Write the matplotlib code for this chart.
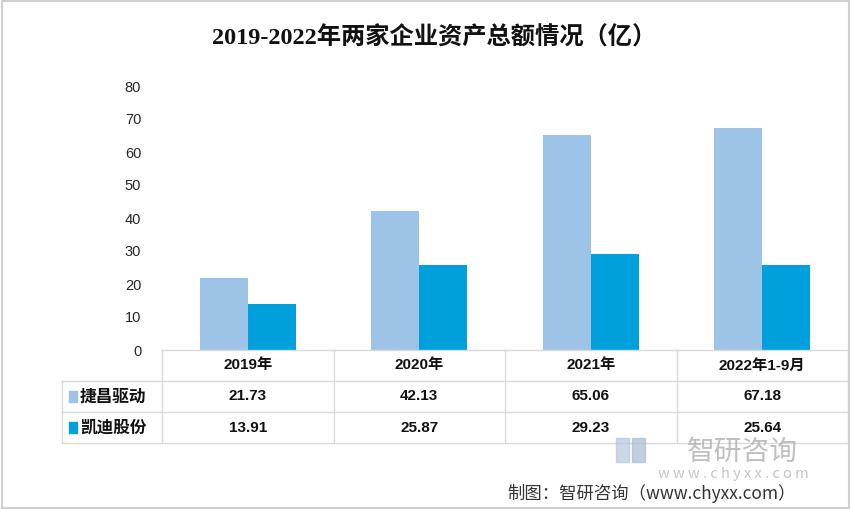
import numpy as np
import matplotlib
matplotlib.use("Agg")
import matplotlib.pyplot as plt
import matplotlib.transforms as mtransforms
from matplotlib.patches import Rectangle

plt.rcParams['font.family'] = ['Noto Sans CJK SC', 'DejaVu Sans']

categories = ['2019年', '2020年', '2021年', '2022年1-9月']
series_names = ['捷昌驱动', '凯迪股份']
jiechang = [21.73, 42.13, 65.06, 67.18]
kaidi = [13.91, 25.87, 29.23, 25.64]
yticks = [0, 10, 20, 30, 40, 50, 60, 70, 80]

colors = ['#9DC3E6', '#00A0DC']
grid_c = '#D9D9D9'

fig = plt.figure(figsize=(8.51, 5.09), dpi=100)
fig.patch.set_facecolor('white')
fig.add_artist(Rectangle((0.002, 0.002), 0.996, 0.996, transform=fig.transFigure,
                         fill=False, edgecolor='#D0D0D0', linewidth=1.5))

ax = fig.add_axes([162/851, 1-350/509, (848-162)/851, (350-86)/509])
x = np.arange(len(categories))
w = 0.28
ax.bar(x - w/2, jiechang, w, color=colors[0])
ax.bar(x + w/2, kaidi, w, color=colors[1])
ax.set_xlim(-0.5, len(categories) - 0.5)
ax.set_ylim(0, 80)
ax.set_yticks(yticks)
ax.set_yticklabels([str(v) for v in yticks], fontsize=10.5, color='#262626',
                   family=['Liberation Sans', 'DejaVu Sans'])
ax.set_xticks([])
ax.tick_params(axis='y', length=0, pad=15)
for s in ax.spines.values():
    s.set_visible(False)

fig.text(0.51, 1-38/509, '2019-2022年两家企业资产总额情况（亿）', ha='center', va='center',
         fontsize=17.5, fontweight='bold', color='#111111',
         family=['Liberation Serif', 'Noto Sans CJK SC'])

# data table under the bars
tr = mtransforms.blended_transform_factory(ax.transData, ax.transAxes)
rh = 31/264
left = -0.5 - 100/171.5
right = len(categories) - 0.5
lk = dict(transform=tr, clip_on=False, color=grid_c, linewidth=1)
ax.plot([-0.5, right], [0, 0], **lk)
for r in range(1, 4):
    ax.plot([left, right], [-r*rh, -r*rh], **lk)
for i in range(len(categories) + 1):
    ax.plot([i - 0.5, i - 0.5], [0, -3*rh], **lk)
ax.plot([left, left], [-rh, -3*rh], **lk)

nf = ['Liberation Sans', 'Noto Sans CJK SC']
for i, c in enumerate(categories):
    ax.text(i, -0.5*rh, c, transform=tr, ha='center', va='center',
            fontsize=11, fontweight='bold', family=nf, color='#111111')
for r, vals in enumerate([jiechang, kaidi]):
    yy = -(r + 1.5)*rh
    for i, v in enumerate(vals):
        ax.text(i, yy, f'{v:.2f}', transform=tr, ha='center', va='center',
                fontsize=11, fontweight='bold', family=nf, color='#111111')
    ax.add_patch(Rectangle((left + 0.04, yy - 0.022), 0.045, 0.044, transform=tr,
                           clip_on=False, color=colors[r]))
    ax.text(left + 0.105, yy, series_names[r], transform=tr, ha='left', va='center',
            fontsize=12, fontweight='bold', color='#111111')

# watermark
fig.text(742/851, 1-452/509, '智研咨询', ha='center', va='center', fontsize=20,
         color='#B0B0B0', alpha=0.8)
fig.text(733/851, 1-474/509, 'w w w . c h y x x . c o m', ha='center', va='center',
         fontsize=10.5, color='#B8B8B8', alpha=0.8)
fig.add_artist(Rectangle((616/851, 1-462/509), 13/851, 24/509, transform=fig.transFigure,
                         color='#B4C6DE', alpha=0.7))
fig.add_artist(Rectangle((632/851, 1-462/509), 13/851, 24/509, transform=fig.transFigure,
                         color='#A8BAD0', alpha=0.7))

fig.text(652/851, 1-493/509, '制图：智研咨询（www.chyxx.com）', ha='center', va='center',
         fontsize=12.5, color='#333333')

fig.savefig('out.png', dpi=100)
